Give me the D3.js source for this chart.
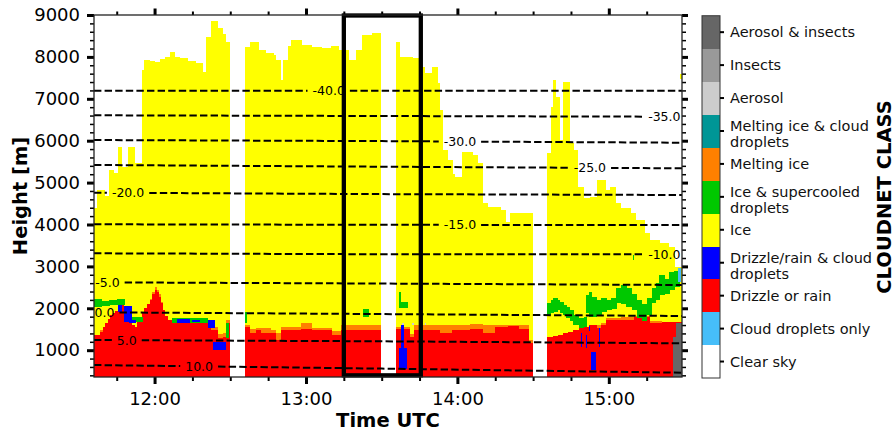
<!DOCTYPE html>
<html><head><meta charset="utf-8">
<script src="https://cdn.jsdelivr.net/npm/d3@7"></script>
<style>body{margin:0;background:#fff} text{font-family:"DejaVu Sans",sans-serif}</style>
</head><body><svg id="c" width="896" height="432"></svg>
<script>
// ---------- DATA ----------
const classes = ["Clear sky","Cloud droplets only","Drizzle or rain","Drizzle/rain & cloud\ndroplets","Ice","Ice & supercooled\ndroplets","Melting ice","Melting ice & cloud\ndroplets","Aerosol","Insects","Aerosol & insects"];
const classColors = ["#ffffff","#46bef9","#ff0000","#0000ff","#ffff00","#00c800","#ff8000","#009696","#cccccc","#999999","#666666"];

const xTickLabels = ["12:00","13:00","14:00","15:00"];
const yTickValues = [1000,2000,3000,4000,5000,6000,7000,8000,9000];

// cloud (ice) top, step series, null = no data
const cloudTimes = ["11:36","11:37","11:40","11:42","11:43:30","11:45:30","11:47","11:49:30","11:52","11:55","11:56","11:58","12:00","12:02","12:04","12:06","12:08","12:10","12:13","12:16","12:19","12:20:30","12:22:30","12:25","12:27","12:28","12:29:30",
 "12:35:50","12:38","12:41","12:44","12:47","12:48","12:50","12:51","12:53","12:54","12:58","13:02","13:06","13:10","13:13","13:17","13:20","13:22","13:26","13:29:40",
 "13:35:40","13:37","13:42","13:45","13:47","13:50","13:52","13:53","13:54","13:56","13:58","13:59","14:02","14:06","14:08","14:10","14:12","14:17","14:19","14:21","14:29:40",
 "14:35:30","14:37","14:38","14:39","14:40:30","14:42","14:44:30","14:46","14:47:30","14:50","14:52:30","14:55:30","14:58:30","15:00:30","15:02:30","15:04:30","15:08:30","15:10:30","15:14","15:16","15:20","15:23:30","15:26","15:29"];
const cloudTop = [4400,4820,4680,5300,5230,5850,5375,5850,5470,7690,7930,7910,7880,7960,7990,8120,8000,7970,7900,7850,7640,8480,8860,8700,8540,8360,null,
 8240,8360,8170,8100,8040,7930,7450,7930,8250,8410,8290,8240,8220,8260,8170,7930,8170,8530,8580,null,
 8360,8000,7980,7760,7620,7760,7380,6730,5780,5540,5200,5130,5730,5650,5470,4510,4420,4350,4060,4280,null,
 5710,6810,7450,7050,6020,7400,5950,5780,4900,4630,4660,5060,4820,4900,4510,4390,4270,4110,3800,3630,3560,3470,2990,null];

// drizzle/rain top and melting-layer top
const rainTimes = ["11:36","11:38:30","11:39:30","11:40:30","11:41:30","11:42:30","11:43:30","11:44:30","11:45:30","11:46:30","11:47:30","11:48:30","11:50","11:51","11:52","11:53","11:54","11:55","11:56","11:57","11:58","11:59","12:00","12:00:45","12:01:30","12:02:15","12:03","12:04","12:05","12:07","12:10","12:18","12:22","12:25","12:27","12:28:30","12:29:30",
 "12:35:50","12:37:30","12:40","12:42","12:46","12:48","12:50","12:58","13:02","13:10","13:14","13:29:40",
 "13:35:40","13:41","13:43","13:50","13:53","13:58","14:05","14:10","14:15","14:20","14:24","14:28","14:29:40",
 "14:35:30","14:38","14:40","14:42","14:44","14:46","14:48","14:50","14:52","14:55","14:57","14:59","15:05","15:10","15:16","15:21","15:29"];
const rainTop = [1360,1430,1550,1650,1750,1830,1880,1930,2000,2080,1850,1790,1670,1600,1550,1700,1800,1880,2000,2100,2200,2330,2430,2380,2270,2130,1960,1820,1720,1650,1670,1650,1480,1290,1320,1650,null,
 1550,1400,1480,1400,1400,1250,1480,1500,1480,1360,1480,null,
 1510,1310,1480,1480,1400,1480,1500,1400,1550,1570,1500,1170,null,
 1310,1330,1370,1400,1430,1480,1520,1560,1590,1520,1600,1720,1720,1790,1640,1670,null];
const meltTop = [1360,1480,1560,1650,1750,1830,1880,1930,2000,2080,1850,1790,1670,1600,1550,1700,1800,1880,2000,2100,2220,2400,2500,2440,2330,2150,1960,1820,1720,1650,1670,1700,1560,1380,1400,1720,null,
 1600,1500,1520,1520,1480,1420,1550,1640,1530,1450,1590,null,
 1560,1380,1590,1590,1600,1590,1620,1600,1600,1600,1590,1250,null,
 1310,1330,1370,1400,1430,1480,1520,1560,1590,1600,1650,1760,1790,1810,1700,1670,null];

// ice & supercooled droplets layer
const liquidTimes = ["11:36","11:39","11:42","11:45","11:48","11:50","11:55","12:07","12:21",
 "14:35:30","14:37","14:38","14:39:30","14:40:30","14:42","14:43","14:44:30","14:46","14:48","14:50","14:51","14:52","14:53","14:55","14:57","14:59","15:01","15:03","15:05","15:07","15:09","15:11","15:13","15:15","15:17","15:18:30","15:20","15:22","15:24","15:26","15:28"];
const liquidBase = [2020,2050,2090,2080,null,1680,null,1660,null,
 1830,1880,1910,1950,1890,1850,1760,1700,1600,1530,1560,1880,1800,1790,1850,1910,1950,1980,2120,2100,2030,1950,1760,1700,1850,2120,2200,2310,2350,2430,2500,null];
const liquidTop  = [2220,2180,2200,2230,null,1800,null,1780,null,
 2120,2190,2240,2200,2150,2080,2030,1950,1840,1760,1800,2310,2400,2260,2200,2240,2200,2250,2480,2550,2480,2350,2190,2100,2250,2480,2600,2790,2700,2860,2900,null];

// small patches (class index, start, end, base, top)
const patchClass = [3,3,3,3,3,3,3,3,3,3,3,3,3,3, 5,5,5,5,5,5, 1, 10,10, 4, 8,8,8];
const patchStart = ["11:45:30","11:48","11:50","12:09","12:15","12:21","12:23","13:37:30","13:37","14:49","14:51","14:52","14:56","14:53",
 "12:28:30","12:35:50","13:22:30","13:37","13:37","15:09:30","15:27:30","15:25:30","15:26:30","15:28:20","13:38","13:42","13:47"];
const patchEnd = ["11:47","11:51","11:52:30","12:14","12:18","12:24","12:28:30","13:39","13:40","14:49:30","14:51:30","14:52:30","14:56:40","14:55",
 "12:29:30","12:36:30","13:25","13:37:40","13:40:30","15:10","15:28:30","15:26:30","15:29","15:29","13:38:40","13:42:40","13:47:40"];
const patchBase = [1900,1670,1650,1660,1670,1520,1000,1000,560,1070,1050,1450,1070,520, 1300,1650,1790,2100,2000,3150, 2620, 360,360, 7480, 1590,1600,1600];
const patchTop  = [2080,2050,1720,1740,1720,1720,1190,1590,1050,1410,1370,1570,1520,950, 1640,1900,1990,2390,2150,3270, 2960, 1310,1650, 7600, 1650,1640,1640];

// temperature contours (deg C)
const contourLevels = [-40,-35,-30,-25,-20,-15,-10,-5,0,5,10];
const contourTimes = ["11:36","13:30","15:29"];
const contourHeights = [[7190,7190,7190],[6606,6589,6572],[6016,5990,5952],[5420,5379,5341],[4759,4725,4704],[4005,3992,3988],[3312,3290,3288],[2620,2590,2556],[1904,1862,1816],[1243,1212,1164],[646,560,463]];
const contourLabelTimes = ["13:09","15:22","14:01","14:52:30","11:49:30","14:01","15:22","11:41:20","11:40:10","11:49","12:17:40"];

// highlighted box
const boxTimes = ["13:15","13:45:30"];
const boxHeights = [400,9000];

// ---------- CHART ----------
const T = s => { const p = s.split(":").map(Number); return new Date(Date.UTC(2020,0,1,p[0],p[1],p[2]||0)); };
const svg = d3.select("#c");
const L = 94, R = 682, TOP = 15, BOT = 377;
const x = d3.scaleUtc().domain([T("11:36"), T("15:29")]).range([L, R]);
const y = d3.scaleLinear().domain([360, 9000]).range([BOT, TOP]);
const Y0 = 360;

svg.append("defs").append("clipPath").attr("id","pc").append("rect")
  .attr("x",L).attr("y",TOP).attr("width",R-L).attr("height",BOT-TOP);
const plot = svg.append("g").attr("clip-path","url(#pc)");

function steps(times, hi, lo, color){
  const g = plot.append("g").attr("shape-rendering","crispEdges");
  for (let i=0;i<times.length-1;i++){
    if (hi[i]==null) continue;
    const x0 = x(T(times[i])), x1 = x(T(times[i+1]));
    const b = lo ? lo[i] : Y0;
    g.append("rect").attr("x",x0).attr("width",Math.max(0,x1-x0)+0.6)
     .attr("y",y(hi[i])).attr("height",Math.max(0,y(b)-y(hi[i]))).attr("fill",color);
  }
}
steps(cloudTimes, cloudTop, null, classColors[4]);
steps(rainTimes, meltTop, null, classColors[6]);
steps(rainTimes, rainTop, null, classColors[2]);
steps(liquidTimes, liquidTop, liquidBase, classColors[5]);
plot.append("g").attr("shape-rendering","crispEdges").selectAll("rect").data(patchClass).join("rect")
  .attr("x",(d,i)=>x(T(patchStart[i])))
  .attr("width",(d,i)=>Math.max(1,x(T(patchEnd[i]))-x(T(patchStart[i]))))
  .attr("y",(d,i)=>y(patchTop[i]))
  .attr("height",(d,i)=>y(patchBase[i])-y(patchTop[i]))
  .attr("fill",d=>classColors[d]);

// contours
const cg = svg.append("g");
const lineGen = d3.line().x(d=>d[0]).y(d=>d[1]);
contourLevels.forEach((lev,i)=>{
  const hAt = d3.scaleLinear().domain(contourTimes.map(T)).range(contourHeights[i]);
  const lx = x(T(contourLabelTimes[i]));
  const ly = y(hAt(T(contourLabelTimes[i])));
  const t = cg.append("text").attr("x",lx).attr("y",ly).attr("dy","0.36em")
    .attr("text-anchor","middle").attr("font-size","12.5px").attr("fill","#000").text(lev.toFixed(1));
  const w = t.node().getComputedTextLength();
  const segs = [[L, lx-w/2-5],[lx+w/2+5, R]];
  segs.forEach(([a,b])=>{
    a = Math.max(a,L); b = Math.min(b,R);
    if (b<=a) return;
    const pts = [a];
    contourTimes.forEach(ct=>{ const px=x(T(ct)); if(px>a && px<b) pts.push(px); });
    pts.push(b);
    cg.append("path").attr("d", lineGen(pts.map(px=>[px, y(hAt(x.invert(px)))])))
      .attr("fill","none").attr("stroke","#000").attr("stroke-width",2).attr("stroke-dasharray","7.4,3.2");
  });
});

// box
svg.append("rect").attr("x",x(T(boxTimes[0]))).attr("y",y(boxHeights[1])+0.5)
  .attr("width",x(T(boxTimes[1]))-x(T(boxTimes[0])))
  .attr("height",y(boxHeights[0])-y(boxHeights[1])-0.5)
  .attr("fill","none").attr("stroke","#000").attr("stroke-width",4.3);

// axes
const majorsX = xTickLabels.map(T);
const minorsX = d3.utcMinute.every(15).range(x.domain()[0], x.domain()[1]).filter(d=>d.getUTCMinutes()!==0);
const minorsY = d3.range(400, 9000, 200).filter(v=>v%1000!==0);
function ax(axis, tr, width, fs){
  const g = svg.append("g").attr("transform",tr).call(axis);
  g.select(".domain").remove();
  g.selectAll(".tick line").attr("stroke","#000").attr("stroke-width",width);
  g.selectAll(".tick text").attr("font-size",fs||"18px").attr("fill","#000").attr("font-family","DejaVu Sans");
  return g;
}
ax(d3.axisBottom(x).tickValues(minorsX).tickSize(4).tickFormat(""), `translate(0,${BOT})`, 2);
ax(d3.axisBottom(x).tickValues(majorsX).tickSize(7).tickPadding(8).tickFormat(d3.utcFormat("%H:%M")), `translate(0,${BOT})`, 3);
ax(d3.axisTop(x).tickValues(minorsX).tickSize(3.5).tickFormat(""), `translate(0,${TOP})`, 2);
ax(d3.axisTop(x).tickValues(majorsX).tickSize(6.5).tickFormat(""), `translate(0,${TOP})`, 3);
ax(d3.axisLeft(y).tickValues(minorsY).tickSize(4).tickFormat(""), `translate(${L},0)`, 1.5);
ax(d3.axisLeft(y).tickValues(yTickValues).tickSize(7).tickPadding(7).tickFormat(d3.format("d")), `translate(${L},0)`, 3);
ax(d3.axisRight(y).tickValues(minorsY).tickSize(4).tickFormat(""), `translate(${R},0)`, 1.5);
ax(d3.axisRight(y).tickValues(yTickValues).tickSize(6).tickFormat(""), `translate(${R},0)`, 3);
svg.append("rect").attr("x",L).attr("y",TOP).attr("width",R-L).attr("height",BOT-TOP)
  .attr("fill","none").attr("stroke","#222").attr("stroke-width",1.3);

svg.append("text").attr("x",(L+R)/2).attr("y",427).attr("text-anchor","middle")
  .attr("font-size","19.5px").attr("font-weight","bold").text("Time UTC");
svg.append("text").attr("transform","translate(27,196) rotate(-90)").attr("text-anchor","middle")
  .attr("font-size","19.5px").attr("font-weight","bold").text("Height [m]");

// colorbar
const cb = d3.scaleBand().domain(d3.range(classes.length).reverse()).range([15.7,378]);
const CBX = 702, CBW = 18;
const cbg = svg.append("g");
cbg.selectAll("rect").data(d3.range(classes.length)).join("rect")
  .attr("x",CBX).attr("y",d=>cb(d)).attr("width",CBW).attr("height",cb.bandwidth()+0.3)
  .attr("fill",d=>classColors[d]).attr("shape-rendering","crispEdges");
cbg.append("rect").attr("x",CBX).attr("y",15.7).attr("width",CBW).attr("height",378-15.7)
  .attr("fill","none").attr("stroke","#333").attr("stroke-width",1);
d3.range(classes.length).forEach(i=>{
  const c = cb(i)+cb.bandwidth()/2;
  cbg.append("line").attr("x1",CBX+CBW).attr("x2",CBX+CBW+4).attr("y1",c).attr("y2",c)
    .attr("stroke","#000").attr("stroke-width",2);
  const lines = classes[i].split("\n");
  const t = cbg.append("text").attr("font-size","14.5px").attr("fill","#111");
  lines.forEach((ln,j)=>{
    const by = lines.length===1 ? c+5.3 : c+0.2+j*16.3;
    t.append("tspan").attr("x",730).attr("y",by).text(ln);
  });
});
svg.append("text").attr("transform","translate(891,197) rotate(-90)").attr("text-anchor","middle")
  .attr("font-size","19.5px").attr("font-weight","bold").text("CLOUDNET CLASS");
</script></body></html>
